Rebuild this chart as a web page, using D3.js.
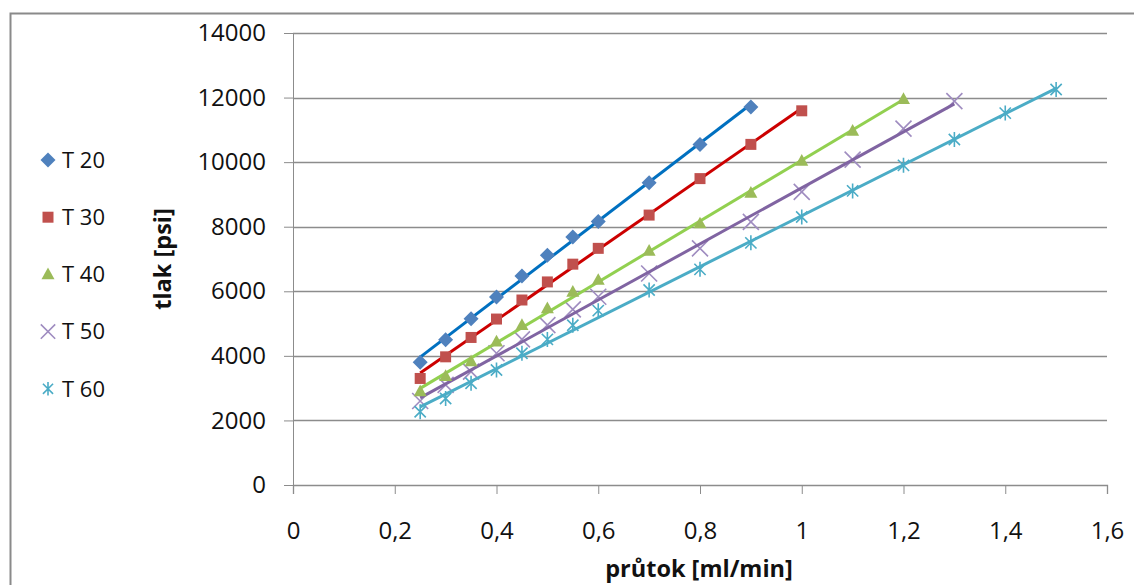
<!DOCTYPE html>
<html>
<head>
<meta charset="utf-8">
<script src="https://cdn.jsdelivr.net/npm/d3@7"></script>
<style>
  html, body { margin: 0; padding: 0; background: #fff; }
  svg { display: block; }
  text { font-family: "Open Sans", "Noto Sans", sans-serif; fill: #111; }
</style>
</head>
<body>
<svg id="chart" width="1134" height="585"></svg>
<script>
// Flow rate (ml/min) against pressure (psi) at five temperatures
const seriesNames = ["T 20", "T 30", "T 40", "T 50", "T 60"];

const flowT20 = [0.25, 0.3, 0.35, 0.4, 0.45, 0.5, 0.55, 0.6, 0.7, 0.8, 0.9];
const psiT20  = [3800, 4500, 5150, 5820, 6470, 7120, 7680, 8160, 9360, 10550, 11710];

const flowT30 = [0.25, 0.3, 0.35, 0.4, 0.45, 0.5, 0.55, 0.6, 0.7, 0.8, 0.9, 1.0];
const psiT30  = [3300, 3970, 4570, 5140, 5730, 6290, 6840, 7330, 8360, 9490, 10550, 11590];

const flowT40 = [0.25, 0.3, 0.35, 0.4, 0.45, 0.5, 0.55, 0.6, 0.7, 0.8, 0.9, 1.0, 1.1, 1.2];
const psiT40  = [2900, 3370, 3830, 4440, 4950, 5470, 5980, 6350, 7250, 8100, 9050, 10040, 10970, 11950];

const flowT50 = [0.25, 0.3, 0.35, 0.4, 0.45, 0.5, 0.55, 0.6, 0.7, 0.8, 0.9, 1.0, 1.1, 1.2, 1.3];
const psiT50  = [2600, 3100, 3510, 4080, 4510, 4950, 5440, 5830, 6550, 7330, 8150, 9080, 10080, 11040, 11890];

const flowT60 = [0.25, 0.3, 0.35, 0.4, 0.45, 0.5, 0.55, 0.6, 0.7, 0.8, 0.9, 1.0, 1.1, 1.2, 1.3, 1.4, 1.5];
const psiT60  = [2270, 2680, 3150, 3560, 4080, 4510, 4950, 5400, 6040, 6680, 7500, 8300, 9110, 9900, 10700, 11520, 12250];

const xTicks = [0, 0.2, 0.4, 0.6, 0.8, 1.0, 1.2, 1.4, 1.6];
const yTicks = [0, 2000, 4000, 6000, 8000, 10000, 12000, 14000];

const flows = [flowT20, flowT30, flowT40, flowT50, flowT60];
const pressures = [psiT20, psiT30, psiT40, psiT50, psiT60];

const styles = [
  { marker: "diamond", fill: "#4F81BD", line: "#0070C0", size: 15 },
  { marker: "square",  fill: "#C0504D", line: "#CC0000", size: 11 },
  { marker: "triangle",fill: "#9BBB59", line: "#92D050", size: 13 },
  { marker: "x",       fill: "#9F8CC0", line: "#8064A2", size: 16 },
  { marker: "star",    fill: "#4BACC6", line: "#4BACC6", size: 15 }
];

const series = seriesNames.map((name, i) => ({
  name,
  style: styles[i],
  thin: styles[i].marker === "x" || styles[i].marker === "star",
  points: flows[i].map((f, j) => ({ x: f, y: pressures[i][j] }))
}));

const svg = d3.select("#chart");
const m = { left: 293, right: 1107, top: 33, bottom: 485 };

const x = d3.scaleLinear().domain([0, 1.6]).range([m.left, m.right]);
const y = d3.scaleLinear().domain([0, 14000]).range([m.bottom, m.top]);

// outer chart frame
svg.append("rect")
  .attr("x", 10.5).attr("y", 13.5)
  .attr("width", 1140).attr("height", 600)
  .attr("fill", "none").attr("stroke", "#8a8a8a").attr("stroke-width", 2);

// y axis with horizontal gridlines
const yAxis = d3.axisLeft(y).tickValues(yTicks).tickSize(9).tickPadding(18)
  .tickFormat(d => String(d));
const gy = svg.append("g").attr("transform", `translate(${m.left},0)`).call(yAxis);
gy.select(".domain").attr("stroke", "#8c8c8c");
gy.selectAll(".tick line").attr("stroke", "#8c8c8c");
gy.selectAll(".tick text").attr("font-size", 24).attr("fill", "#111");

svg.append("g").selectAll("line")
  .data(yTicks.filter(d => d > 0))
  .join("line")
  .attr("x1", m.left).attr("x2", m.right)
  .attr("y1", d => Math.round(y(d)) + 0.5).attr("y2", d => Math.round(y(d)) + 0.5)
  .attr("stroke", "#8c8c8c").attr("stroke-width", 1.3);

// x axis, decimal comma labels
const xAxis = d3.axisBottom(x).tickValues(xTicks).tickSize(9).tickPadding(28)
  .tickFormat(d => d3.format("~g")(d).replace(".", ","));
const gx = svg.append("g").attr("transform", `translate(0,${m.bottom})`).call(xAxis);
gx.select(".domain").attr("stroke", "#8c8c8c").attr("stroke-width", 1.3);
gx.selectAll(".tick line").attr("stroke", "#8c8c8c");
gx.selectAll(".tick text").attr("font-size", 24).attr("fill", "#111");

// axis titles
svg.append("text")
  .attr("x", (m.left + m.right) / 2 - 1).attr("y", 577)
  .attr("text-anchor", "middle").attr("font-size", 23.5).attr("font-weight", "bold")
  .text("průtok [ml/min]");

svg.append("text")
  .attr("transform", `translate(171,${(m.top + m.bottom) / 2}) rotate(-90)`)
  .attr("text-anchor", "middle").attr("font-size", 23.5).attr("font-weight", "bold")
  .text("tlak [psi]");

// marker shapes
function markerPath(type, s) {
  const h = s / 2;
  switch (type) {
    case "diamond": return `M0,${-h}L${h},0L0,${h}L${-h},0Z`;
    case "square": return `M${-h},${-h}H${h}V${h}H${-h}Z`;
    case "triangle": return `M0,${-h * 1.05}L${h},${h * 0.75}L${-h},${h * 0.75}Z`;
    case "x": return `M${-h},${-h}L${h},${h}M${h},${-h}L${-h},${h}`;
    case "star": return `M${-h * 0.75},${-h * 0.75}L${h * 0.75},${h * 0.75}M${h * 0.75},${-h * 0.75}L${-h * 0.75},${h * 0.75}M0,${-h}V${h}`;
  }
}
function drawMarker(sel, st, scale = 1) {
  const p = markerPath(st.marker, st.size * scale);
  if (st.marker === "x" || st.marker === "star") {
    sel.attr("d", p).attr("fill", "none").attr("stroke", st.fill).attr("stroke-width", 1.6);
  } else {
    sel.attr("d", p).attr("fill", st.fill).attr("stroke", "none");
  }
}

// linear least-squares trendline for each series
function linearFit(pts) {
  const mx = d3.mean(pts, d => d.x), my = d3.mean(pts, d => d.y);
  let sxy = 0, sxx = 0;
  pts.forEach(d => { sxy += (d.x - mx) * (d.y - my); sxx += (d.x - mx) ** 2; });
  const b = sxy / sxx, a = my - b * mx;
  return xv => a + b * xv;
}

function drawPoints(s) {
  plot.append("g").selectAll("path")
    .data(s.points)
    .join("path")
    .attr("transform", d => `translate(${x(d.x)},${y(d.y)})`)
    .call(sel => drawMarker(sel, s.style));
}

const plot = svg.append("g");
// thin cross markers sit under their trendlines
series.filter(s => s.thin).forEach(drawPoints);
series.forEach(s => {
  const f = linearFit(s.points);
  const ext = d3.extent(s.points, d => d.x);
  plot.append("path")
    .datum(ext.map(v => ({ x: v, y: f(v) })))
    .attr("d", d3.line().x(d => x(d.x)).y(d => y(d.y)))
    .attr("fill", "none").attr("stroke", s.style.line).attr("stroke-width", 3);
});
// solid markers on top
series.filter(s => !s.thin).forEach(drawPoints);

// legend
const legendTop = 160, legendStep = 57.2;
const lg = svg.append("g");
series.forEach((s, i) => {
  const cy = legendTop + i * legendStep;
  lg.append("path")
    .attr("transform", `translate(48,${cy})`)
    .call(sel => drawMarker(sel, s.style, s.thin ? 0.9 : 1));
  lg.append("text")
    .attr("x", 62).attr("y", cy).attr("dy", "0.35em")
    .attr("font-size", 22).attr("fill", "#111")
    .text(s.name);
});
</script>
</body>
</html>
